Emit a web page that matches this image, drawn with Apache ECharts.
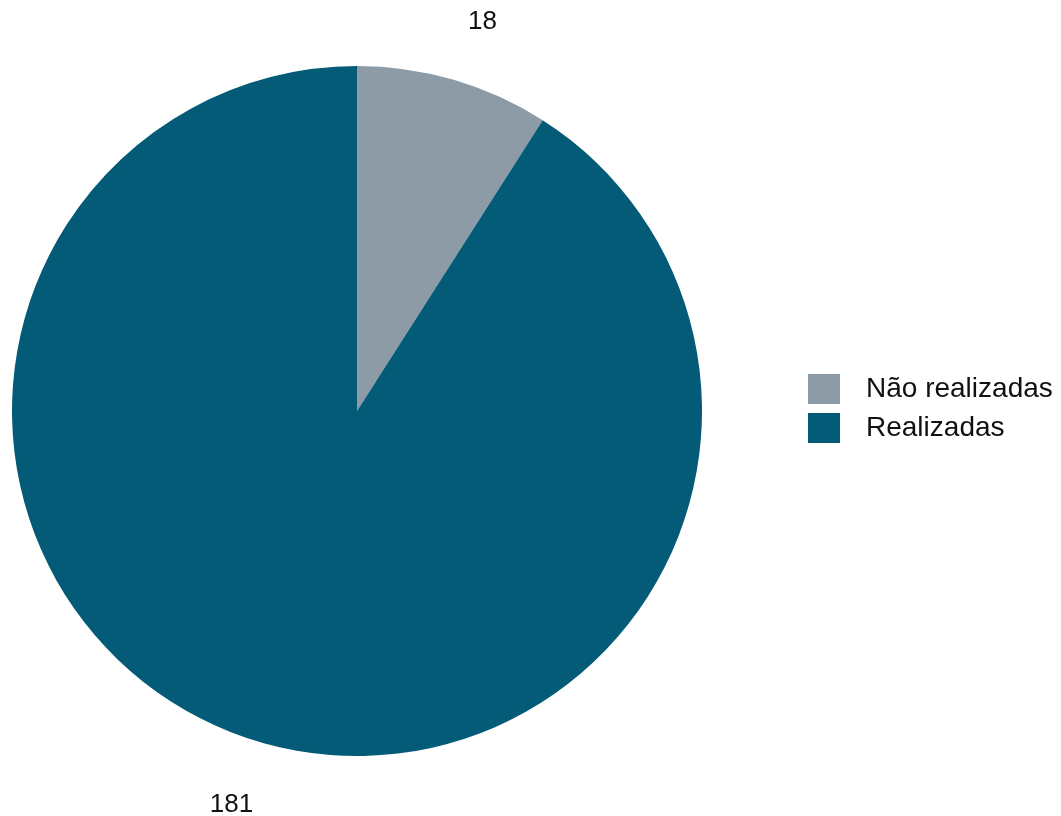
<!DOCTYPE html>
<html>
<head>
<meta charset="utf-8">
<script src="https://cdn.jsdelivr.net/npm/echarts@6/dist/echarts.min.js"></script>
<style>html,body{margin:0;padding:0;background:#fff;}#c{width:1061px;height:816px;}</style>
</head>
<body>
<div id="c"></div>
<script>
const categories = ["Não realizadas", "Realizadas"];
const values = [18, 181];
const colors = ["#8C9BA6", "#035B78"];

const chart = echarts.init(document.getElementById('c'), null, {renderer: 'canvas'});
const mainData = categories.map((n, i) => ({name: n, value: values[i], itemStyle: {color: colors[i]}}));
const labelData = categories.map((n, i) => ({name: n, value: values[i], itemStyle: {color: 'rgba(0,0,0,0)'}}));

chart.setOption({
  animation: false,
  backgroundColor: '#ffffff',
  legend: {
    orient: 'vertical',
    left: 803,
    top: 369,
    itemWidth: 32,
    itemHeight: 30,
    itemGap: 9,
    icon: 'rect',
    data: categories,
    textStyle: {fontFamily: 'Liberation Sans, Arial, sans-serif', fontSize: 28, color: '#111111', padding: [0, 0, 0, 21]},
    selectedMode: false
  },
  series: [
    {
      type: 'pie',
      center: [357, 411],
      radius: 345,
      startAngle: 90,
      clockwise: true,
      silent: true,
      label: {show: false},
      labelLine: {show: false},
      itemStyle: {borderWidth: 0},
      emphasis: {disabled: true},
      data: mainData
    },
    {
      type: 'pie',
      center: [357, 413],
      radius: [396, 420],
      startAngle: 88.5,
      clockwise: true,
      silent: true,
      label: {show: true, position: 'inside', formatter: '{c}', fontFamily: 'Liberation Sans, Arial, sans-serif', fontSize: 26, color: '#111111'},
      labelLine: {show: false},
      itemStyle: {borderWidth: 0},
      emphasis: {disabled: true},
      data: labelData
    }
  ]
});
</script>
</body>
</html>
